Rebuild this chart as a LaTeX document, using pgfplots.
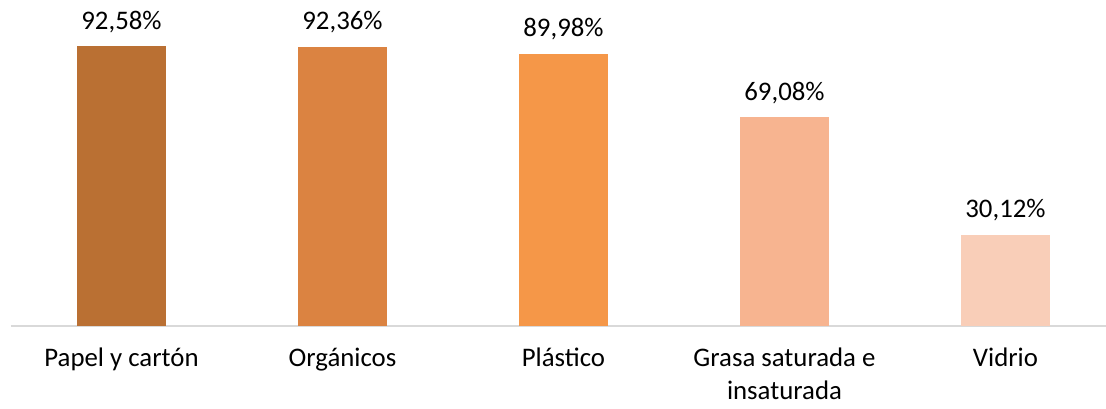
\documentclass[border=0pt]{standalone}
\usepackage{fontspec}
\setmainfont{Carlito}
\usepackage{pgfplots}
\pgfplotsset{compat=1.18}

\definecolor{c1}{HTML}{BA7033}
\definecolor{c2}{HTML}{DB8341}
\definecolor{c3}{HTML}{F59748}
\definecolor{c4}{HTML}{F7B490}
\definecolor{c5}{HTML}{F9CEB8}
\definecolor{axisgray}{HTML}{D9D9D9}

\begin{document}
\fontsize{13.4}{16.5}\selectfont
\begin{tikzpicture}
\begin{axis}[
    at={(0,0)}, anchor=south west,
    width=547.5pt, height=163pt,
    scale only axis,
    ybar, bar shift=0pt, bar width=0.4027,
    xmin=-0.5, xmax=4.455,
    ymin=0, ymax=107.8,
    axis x line*=bottom,
    axis y line=none,
    x axis line style={draw=axisgray, line width=0.8pt},
    xtick={0,1,2,3,4},
    xticklabels={\strut Papel y cartón, \strut Orgánicos, \strut Plástico, {\strut Grasa saturada e\\insaturada}, \strut Vidrio},
    major tick length=0pt,
    xticklabel style={align=center, anchor=north, inner sep=0pt, yshift=-8.4pt, font=\fontsize{13.4}{16.5}\selectfont},
    nodes near coords={\pgfmathprintnumber[fixed,fixed zerofill,precision=2,use comma,assume math mode=true]{\pgfplotspointmeta}\%},
    nodes near coords style={anchor=base, inner sep=0pt, yshift=8.5pt, font=\fontsize{13.4}{16.5}\selectfont, text=black},
    clip=false,
]
\addplot[fill=c1, draw=none] coordinates {(0,92.58)};
\addplot[fill=c2, draw=none] coordinates {(1,92.36)};
\addplot[fill=c3, draw=none] coordinates {(2,89.98)};
\addplot[fill=c4, draw=none] coordinates {(3,69.08)};
\addplot[fill=c5, draw=none] coordinates {(4,30.12)};
\end{axis}
\pgfresetboundingbox
\path[use as bounding box] (-5.5pt,-41pt) rectangle (547.5pt,163pt);
\end{tikzpicture}
\end{document}
